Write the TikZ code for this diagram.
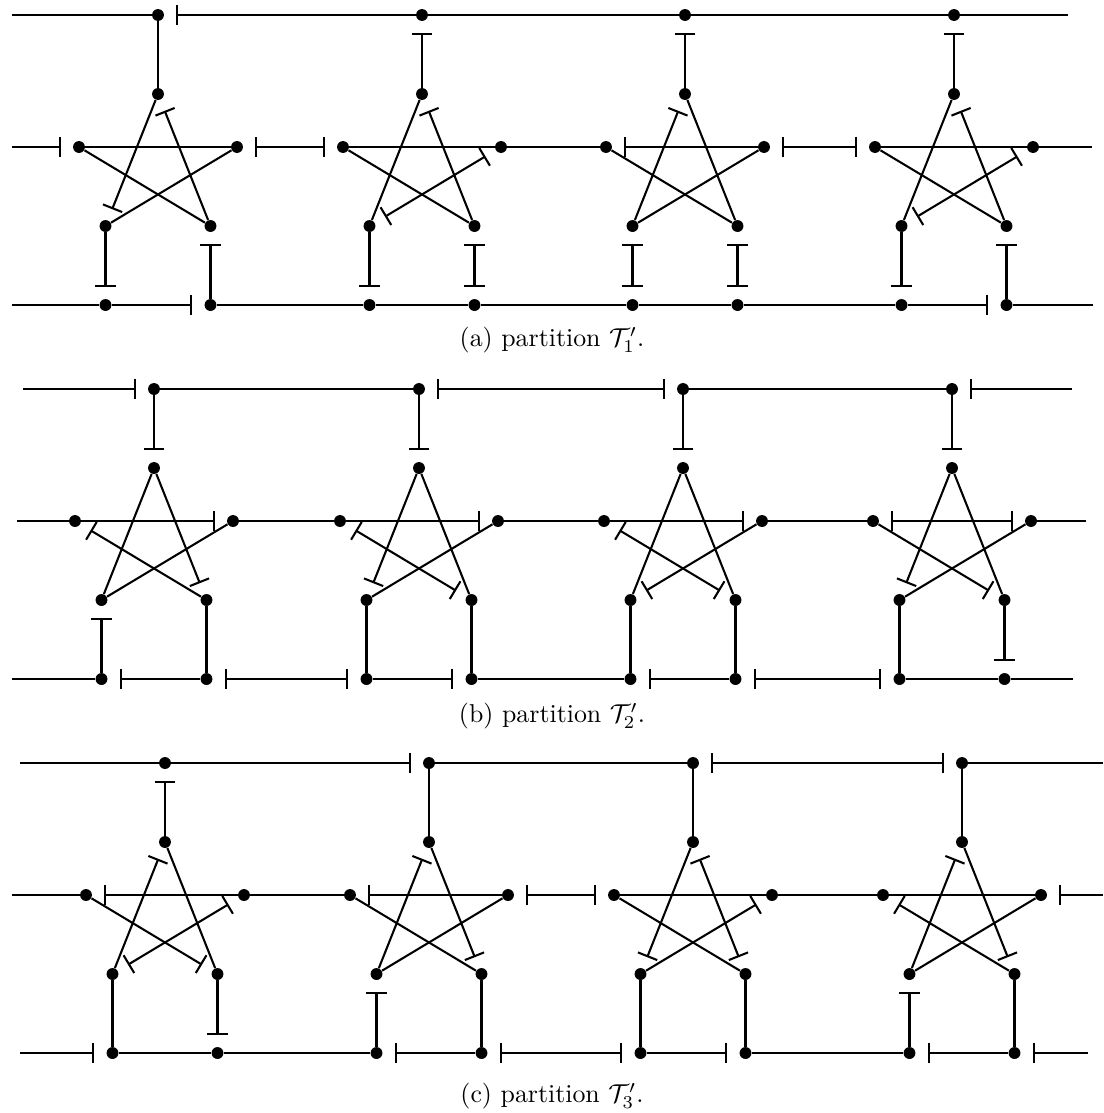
\documentclass[tikz,border=0pt]{standalone}
\usepackage{amsmath,amssymb}
\usepackage{tikz}
\usetikzlibrary{arrows.meta}

\begin{document}
\begin{tikzpicture}[x=0.0136cm, y=-0.0136cm,
  dot/.style={circle, fill, inner sep=0pt, minimum size=4.6pt},
  ln/.style={line width=0.8pt},
  cutend/.style={ln, -{Bar[width=8pt]}, shorten >=4.5pt},
  cutstart/.style={ln, {Bar[width=8pt]}-, shorten <=4.5pt},
  cutboth/.style={ln, {Bar[width=8pt]}-{Bar[width=8pt]}, shorten <=4.5pt, shorten >=4.5pt}]
\useasboundingbox (0,0) rectangle (1104,1113);

% panel (a): gadgets, edge styles in order TS SP SQ LR LQ RP PU QV UV
\foreach \i/\x/\sTS/\sSP/\sSQ/\sLR/\sLQ/\sRP/\sPU/\sQV/\sUV in {
    1/158/ln/cutend/cutstart/ln/ln/ln/cutend/cutstart/cutend,
    2/422/cutstart/ln/cutstart/ln/ln/cutboth/cutend/cutboth/ln,
    3/685/cutstart/cutstart/ln/cutstart/ln/ln/cutboth/cutboth/ln,
    4/954/cutstart/ln/cutstart/ln/ln/cutboth/cutend/cutstart/cutend} {
  \node[dot] (Ta\i) at (\x,15) {};
  \node[dot] (Sa\i) at (\x,94) {};
  \node[dot] (La\i) at (\x-79,147) {};
  \node[dot] (Ra\i) at (\x+79,147) {};
  \node[dot] (Pa\i) at (\x-52.5,226) {};
  \node[dot] (Qa\i) at (\x+52.5,226) {};
  \node[dot] (Ua\i) at (\x-52.5,305) {};
  \node[dot] (Va\i) at (\x+52.5,305) {};
  \draw[\sTS] (Ta\i) -- (Sa\i);
  \draw[\sSP] (Sa\i) -- (Pa\i);
  \draw[\sSQ] (Sa\i) -- (Qa\i);
  \draw[\sLR] (La\i) -- (Ra\i);
  \draw[\sLQ] (La\i) -- (Qa\i);
  \draw[\sRP] (Ra\i) -- (Pa\i);
  \draw[\sPU] (Pa\i) -- (Ua\i);
  \draw[\sQV] (Qa\i) -- (Va\i);
  \draw[\sUV] (Ua\i) -- (Va\i);
}
\coordinate (Ta0) at (12,15);   \coordinate (Ta5) at (1068,15);
\coordinate (Ra0) at (12,147);  \coordinate (La5) at (1092,147);
\coordinate (Va0) at (12,305);  \coordinate (Ua5) at (1093,305);
\foreach \i/\j/\sT/\sM/\sB in {0/1/ln/cutend/ln, 1/2/cutstart/cutboth/ln,
    2/3/ln/ln/ln, 3/4/ln/cutboth/ln, 4/5/ln/ln/ln} {
  \draw[\sT] (Ta\i) -- (Ta\j);
  \draw[\sM] (Ra\i) -- (La\j);
  \draw[\sB] (Va\i) -- (Ua\j);
}
\node (capa) at (552,340) {(a) partition $\mathcal{T}_1'$.};

% panel (b)
\foreach \i/\x/\sTS/\sSP/\sSQ/\sLR/\sLQ/\sRP/\sPU/\sQV/\sUV in {
    1/154/cutend/ln/cutend/cutend/cutstart/ln/cutstart/ln/cutstart,
    2/419/cutend/cutend/ln/cutend/cutboth/ln/ln/ln/cutend,
    3/683/cutend/ln/ln/cutend/cutboth/cutend/ln/ln/cutstart,
    4/952/cutend/cutend/ln/cutboth/cutend/ln/ln/cutend/ln} {
  \node[dot] (Tb\i) at (\x,389) {};
  \node[dot] (Sb\i) at (\x,468) {};
  \node[dot] (Lb\i) at (\x-79,521) {};
  \node[dot] (Rb\i) at (\x+79,521) {};
  \node[dot] (Pb\i) at (\x-52.5,600) {};
  \node[dot] (Qb\i) at (\x+52.5,600) {};
  \node[dot] (Ub\i) at (\x-52.5,679) {};
  \node[dot] (Vb\i) at (\x+52.5,679) {};
  \draw[\sTS] (Tb\i) -- (Sb\i);
  \draw[\sSP] (Sb\i) -- (Pb\i);
  \draw[\sSQ] (Sb\i) -- (Qb\i);
  \draw[\sLR] (Lb\i) -- (Rb\i);
  \draw[\sLQ] (Lb\i) -- (Qb\i);
  \draw[\sRP] (Rb\i) -- (Pb\i);
  \draw[\sPU] (Pb\i) -- (Ub\i);
  \draw[\sQV] (Qb\i) -- (Vb\i);
  \draw[\sUV] (Ub\i) -- (Vb\i);
}
\coordinate (Tb0) at (23,389);  \coordinate (Tb5) at (1072,389);
\coordinate (Rb0) at (17,521);  \coordinate (Lb5) at (1086,521);
\coordinate (Vb0) at (12,679);  \coordinate (Ub5) at (1073,679);
\foreach \i/\j/\sT/\sM/\sB in {0/1/cutend/ln/ln, 1/2/ln/ln/cutboth,
    2/3/cutboth/ln/ln, 3/4/ln/ln/cutboth, 4/5/cutstart/ln/ln} {
  \draw[\sT] (Tb\i) -- (Tb\j);
  \draw[\sM] (Rb\i) -- (Lb\j);
  \draw[\sB] (Vb\i) -- (Ub\j);
}
\node (capb) at (552,716) {(b) partition $\mathcal{T}_2'$.};

% panel (c)
\foreach \i/\x/\sTS/\sSP/\sSQ/\sLR/\sLQ/\sRP/\sPU/\sQV/\sUV in {
    1/165/cutstart/cutstart/ln/cutstart/cutend/cutboth/ln/cutend/ln,
    2/429/ln/cutstart/cutend/cutstart/ln/ln/cutstart/ln/cutstart,
    3/693/ln/cutend/cutboth/ln/ln/cutstart/ln/ln/cutend,
    4/962/ln/cutstart/cutend/ln/cutstart/ln/cutstart/ln/cutstart} {
  \node[dot] (Tc\i) at (\x,763) {};
  \node[dot] (Sc\i) at (\x,842) {};
  \node[dot] (Lc\i) at (\x-79,895) {};
  \node[dot] (Rc\i) at (\x+79,895) {};
  \node[dot] (Pc\i) at (\x-52.5,974) {};
  \node[dot] (Qc\i) at (\x+52.5,974) {};
  \node[dot] (Uc\i) at (\x-52.5,1053) {};
  \node[dot] (Vc\i) at (\x+52.5,1053) {};
  \draw[\sTS] (Tc\i) -- (Sc\i);
  \draw[\sSP] (Sc\i) -- (Pc\i);
  \draw[\sSQ] (Sc\i) -- (Qc\i);
  \draw[\sLR] (Lc\i) -- (Rc\i);
  \draw[\sLQ] (Lc\i) -- (Qc\i);
  \draw[\sRP] (Rc\i) -- (Pc\i);
  \draw[\sPU] (Pc\i) -- (Uc\i);
  \draw[\sQV] (Qc\i) -- (Vc\i);
  \draw[\sUV] (Uc\i) -- (Vc\i);
}
\coordinate (Tc0) at (20,763);  \coordinate (Tc5) at (1103,763);
\coordinate (Rc0) at (12,895);  \coordinate (Lc5) at (1103,895);
\coordinate (Vc0) at (20,1053); \coordinate (Uc5) at (1088,1053);
\foreach \i/\j/\sT/\sM/\sB in {0/1/ln/ln/cutend, 1/2/cutend/ln/ln,
    2/3/ln/cutboth/cutboth, 3/4/cutboth/ln/ln, 4/5/ln/cutstart/cutstart} {
  \draw[\sT] (Tc\i) -- (Tc\j);
  \draw[\sM] (Rc\i) -- (Lc\j);
  \draw[\sB] (Vc\i) -- (Uc\j);
}
\node (capc) at (552,1096) {(c) partition $\mathcal{T}_3'$.};
\end{tikzpicture}
\end{document}
